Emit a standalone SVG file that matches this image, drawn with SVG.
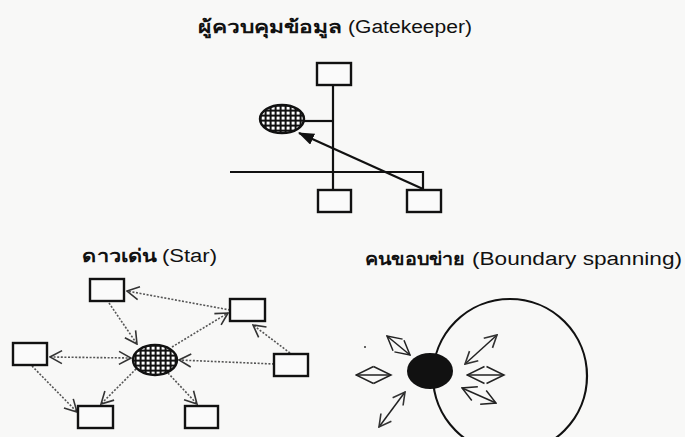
<svg xmlns="http://www.w3.org/2000/svg" width="685" height="437" viewBox="0 0 685 437">
<style>
.bg{fill:#f8f8f7}
.box{fill:#fafafa;stroke:#111;stroke-width:2.4}
.ln{fill:none;stroke:#111;stroke-width:2.2}
.dot{fill:none;stroke:#555;stroke-width:1.6;stroke-dasharray:2 1.6}
.bs{fill:none;stroke:#222;stroke-width:1.5}
.th{font-family:"Liberation Sans","DejaVu Sans",sans-serif;font-weight:bold;font-size:18px;fill:#111}
.en{font-family:"Liberation Sans",Arial,sans-serif;font-size:18px;fill:#111}
</style>
<defs>
<pattern id="grid" width="5" height="5" patternUnits="userSpaceOnUse">
<rect width="5" height="5" fill="#111"/>
<rect x="1.6" y="1.6" width="3" height="3" fill="#fff"/>
</pattern>
<marker id="fill" viewBox="0 0 16 12" refX="15" refY="6" markerWidth="16" markerHeight="12" markerUnits="userSpaceOnUse" orient="auto">
<path d="M0,0 L16,6 L0,12 Z" fill="#111"/>
</marker>
<marker id="v" viewBox="0 0 14 16" refX="13" refY="8" markerWidth="14" markerHeight="16" markerUnits="userSpaceOnUse" orient="auto-start-reverse">
<path d="M1,1.5 L13,8 L1,14.5" fill="none" stroke="#333" stroke-width="1.6"/>
</marker>
<marker id="dm" viewBox="0 0 20 20" refX="18.5" refY="10" markerWidth="20" markerHeight="20" markerUnits="userSpaceOnUse" orient="auto-start-reverse">
<path d="M1,1.5 L18.5,10 L1,18.5" fill="none" stroke="#222" stroke-width="1.5"/>
</marker>
<marker id="sm" viewBox="0 0 16 18" refX="15" refY="9" markerWidth="16" markerHeight="18" markerUnits="userSpaceOnUse" orient="auto-start-reverse">
<path d="M1,1.5 L15,9 L1,16.5" fill="none" stroke="#222" stroke-width="1.5"/>
</marker>
</defs>
<rect class="bg" width="685" height="437"/>

<!-- Titles -->
<g id="title-gatekeeper">
<text class="th" x="198" y="33" textLength="144" lengthAdjust="spacingAndGlyphs">ผู้ควบคุมข้อมูล</text>
<text class="en" x="348" y="33" textLength="124" lengthAdjust="spacingAndGlyphs">(Gatekeeper)</text>
</g>
<g id="title-star">
<text class="th" x="82" y="262" textLength="75" lengthAdjust="spacingAndGlyphs">ดาวเด่น</text>
<text class="en" x="162" y="262" textLength="55" lengthAdjust="spacingAndGlyphs">(Star)</text>
</g>
<g id="title-boundary">
<text class="th" x="365" y="265" textLength="100" lengthAdjust="spacingAndGlyphs">คนขอบข่าย</text>
<text class="en" x="472" y="265" textLength="210" lengthAdjust="spacingAndGlyphs">(Boundary spanning)</text>
</g>

<!-- Gatekeeper connectors -->
<g id="gk-connectors">
<line class="ln" x1="333" y1="85" x2="333" y2="190"/>
<line class="ln" x1="303" y1="121" x2="333" y2="121"/>
<polyline class="ln" points="230,172 423,172 423,190"/>
<line class="ln" x1="423" y1="189" x2="299" y2="133" marker-end="url(#fill)"/>
</g>
<g id="gk-top"><rect class="box" x="317" y="63" width="34" height="22"/></g>
<g id="gk-gatekeeper"><ellipse cx="282" cy="119" rx="22" ry="14" fill="url(#grid)" stroke="#111" stroke-width="2.4"/></g>
<g id="gk-bottom1"><rect class="box" x="318" y="190" width="33" height="22"/></g>
<g id="gk-bottom2"><rect class="box" x="407" y="190" width="34" height="22"/></g>

<!-- Star connectors -->
<g id="star-connectors">
<line class="dot" x1="230" y1="310" x2="127" y2="291" marker-end="url(#v)"/>
<line class="dot" x1="109" y1="303" x2="137" y2="344" marker-end="url(#v)"/>
<line class="dot" x1="172" y1="347" x2="228" y2="313" marker-end="url(#v)"/>
<line class="dot" x1="290" y1="353" x2="253" y2="325" marker-end="url(#v)"/>
<line class="dot" x1="274" y1="364" x2="179" y2="360" marker-end="url(#v)"/>
<line class="dot" x1="50" y1="357" x2="131" y2="358" marker-start="url(#v)" marker-end="url(#v)"/>
<line class="dot" x1="136" y1="369" x2="101" y2="404" marker-end="url(#v)"/>
<line class="dot" x1="32" y1="366" x2="77" y2="412" marker-end="url(#v)"/>
<line class="dot" x1="168" y1="373" x2="197" y2="404" marker-end="url(#v)"/>
</g>
<g id="star-center"><ellipse cx="155" cy="360" rx="22" ry="15" fill="url(#grid)" stroke="#111" stroke-width="2.4"/></g>
<g id="star-n1"><rect class="box" x="90" y="279" width="34" height="22"/></g>
<g id="star-n2"><rect class="box" x="230" y="299" width="35" height="22"/></g>
<g id="star-n3"><rect class="box" x="13" y="343" width="34" height="22"/></g>
<g id="star-n4"><rect class="box" x="274" y="354" width="34" height="22"/></g>
<g id="star-n5"><rect class="box" x="78" y="406" width="35" height="22"/></g>
<g id="star-n6"><rect class="box" x="185" y="406" width="33" height="22"/></g>

<!-- Boundary spanning -->
<g id="bs-network"><circle cx="510" cy="376" r="77" fill="none" stroke="#111" stroke-width="2.2"/></g>
<g id="bs-spanner"><ellipse cx="430" cy="371" rx="23" ry="18" fill="#111"/></g>
<g id="bs-connectors">
<line class="bs" x1="387" y1="336" x2="410" y2="355" marker-start="url(#sm)" marker-end="url(#sm)"/>
<line class="bs" x1="356" y1="375" x2="391" y2="375" marker-start="url(#dm)" marker-end="url(#dm)"/>
<line class="bs" x1="379" y1="427" x2="405" y2="392" marker-start="url(#v)" marker-end="url(#v)"/>
<line class="bs" x1="465" y1="364" x2="497" y2="335" marker-start="url(#v)" marker-end="url(#v)"/>
<line class="bs" x1="467" y1="375" x2="504" y2="375" marker-start="url(#dm)" marker-end="url(#dm)"/>
<line class="bs" x1="462" y1="388" x2="496" y2="403" marker-start="url(#sm)" marker-end="url(#sm)"/>
</g>
<circle cx="365" cy="347" r="1" fill="#333"/>
</svg>
